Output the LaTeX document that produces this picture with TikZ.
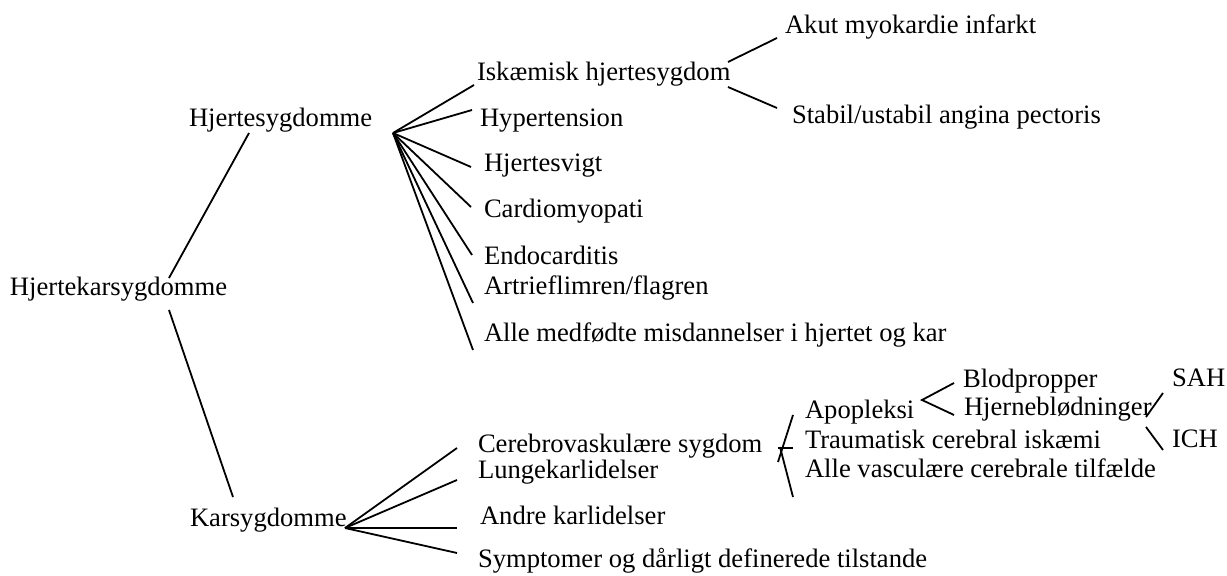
\documentclass[tikz,border=0pt]{standalone}
\usepackage{fontspec}
\setmainfont{Liberation Serif}
\begin{document}
\begin{tikzpicture}[x=0.5pt,y=-0.5pt,
  lbl/.style={anchor=base west,inner sep=0pt,outer sep=0pt,font=\fontsize{13.3}{15}\selectfont},
  conn/.style={line width=0.9pt,black}]
\useasboundingbox (0,0) rectangle (1227,576);
% texts
\node[lbl] (root) at (10,296) {Hjertekarsygdomme};
\node[lbl] (hs) at (189,127) {Hjertesygdomme};
\node[lbl] (ks) at (190,527) {Karsygdomme};
\node[lbl] (isk) at (477,81) {Iskæmisk hjertesygdom};
\node[lbl] (hyp) at (480,127) {Hypertension};
\node[lbl] (hsv) at (484,172) {Hjertesvigt};
\node[lbl] (card) at (484,218) {Cardiomyopati};
\node[lbl] (endo) at (484,265) {Endocarditis};
\node[lbl] (art) at (484,295) {Artrieflimren/flagren};
\node[lbl] (alle) at (484,342) {Alle medfødte misdannelser i hjertet og kar};
\node[lbl] (akut) at (785,34) {Akut myokardie infarkt};
\node[lbl] (stab) at (792,124) {Stabil/ustabil angina pectoris};
\node[lbl] (cer) at (478,453) {Cerebrovaskulære sygdom};
\node[lbl] (lunge) at (478,479) {Lungekarlidelser};
\node[lbl] (andre) at (480,525) {Andre karlidelser};
\node[lbl] (symp) at (478,568) {Symptomer og dårligt definerede tilstande};
\node[lbl] (apo) at (805,419) {Apopleksi};
\node[lbl] (trau) at (805,449) {Traumatisk cerebral iskæmi};
\node[lbl] (allev) at (805,478) {Alle vasculære cerebrale tilfælde};
\node[lbl] (blod) at (963,388) {Blodpropper};
\node[lbl] (hjb) at (964,416) {Hjerneblødninger};
\node[lbl] (sah) at (1172,387) {SAH};
\node[lbl] (ich) at (1172,448) {ICH};
% connector end points
\coordinate (rootT) at (169,278);
\coordinate (rootB) at (169,310);
\coordinate (hsL) at (249,133);
\coordinate (ksL) at (233,497);
\coordinate (hsR) at (393,133);
\coordinate (iskL) at (474,85);
\coordinate (hypL) at (472,110);
\coordinate (hsvL) at (471,167);
\coordinate (cardL) at (471,207);
\coordinate (endoL) at (472,255);
\coordinate (artL) at (473,303);
\coordinate (alleL) at (473,350);
\coordinate (iskRT) at (728,62);
\coordinate (iskRB) at (728,87);
\coordinate (akutL) at (777,38);
\coordinate (stabL) at (777,108);
\coordinate (ksR) at (345,528);
\coordinate (cerL) at (457,448);
\coordinate (lungeL) at (457,480);
\coordinate (andreL) at (457,528);
\coordinate (sympL) at (457,553);
\coordinate (apoL) at (793,415);
\coordinate (cerR1) at (778,462);
\coordinate (cerR2) at (780,447);
\coordinate (allevL) at (793,497);
\coordinate (cerR3) at (778,448);
\coordinate (trauL) at (793,448);
\coordinate (apoR) at (922,400);
\coordinate (blodL) at (954,383);
\coordinate (hjbL) at (954,415);
\coordinate (hjbRT) at (1146,417);
\coordinate (hjbRB) at (1146,427);
\coordinate (sahL) at (1163,393);
\coordinate (ichL) at (1163,450);
% connectors
\draw[conn] (rootT) -- (hsL);
\draw[conn] (rootB) -- (ksL);
\foreach \t in {iskL,hypL,hsvL,cardL,endoL,artL,alleL}
  \draw[conn] (hsR) -- (\t);
\draw[conn] (iskRT) -- (akutL);
\draw[conn] (iskRB) -- (stabL);
\foreach \t in {cerL,lungeL,andreL,sympL}
  \draw[conn] (ksR) -- (\t);
\draw[conn] (apoL) -- (cerR1);
\draw[conn] (cerR2) -- (allevL);
\draw[conn] (cerR3) -- (trauL);
\draw[conn] (blodL) -- (apoR) -- (hjbL);
\draw[conn] (hjbRT) -- (sahL);
\draw[conn] (hjbRB) -- (ichL);
\end{tikzpicture}
\end{document}
